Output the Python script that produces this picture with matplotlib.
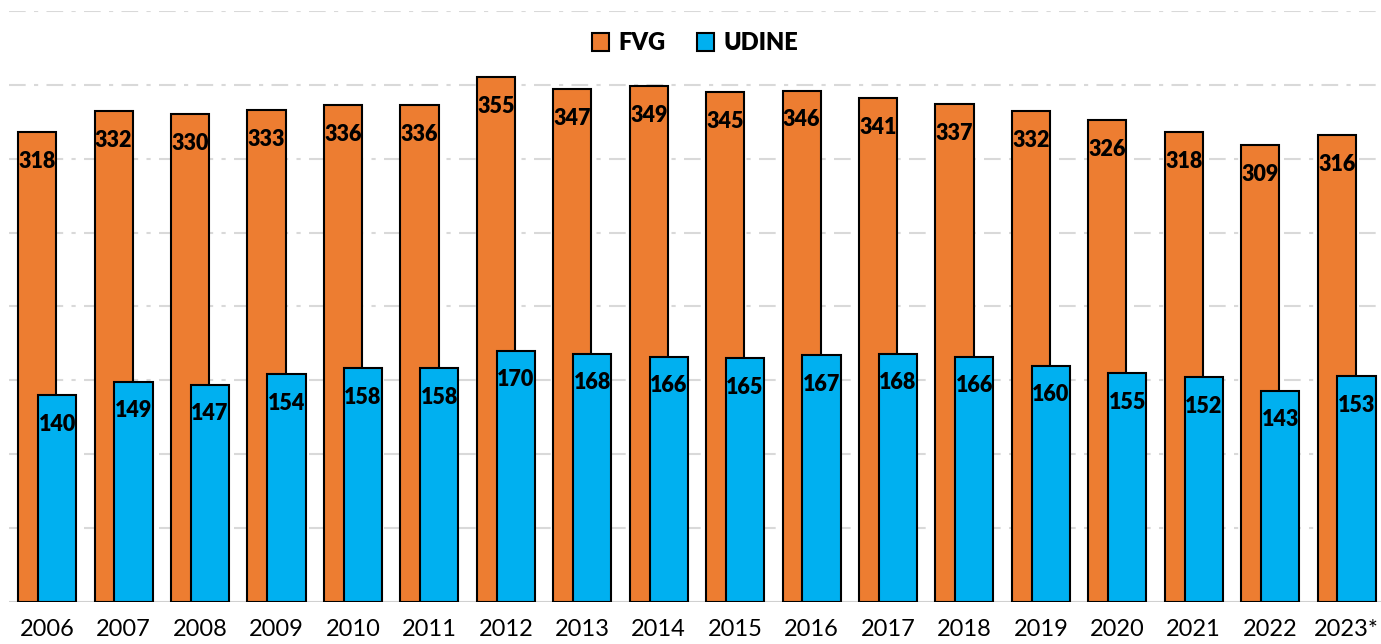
"""Overlapping bar chart: FVG vs UDINE, 2006-2023."""

import matplotlib

matplotlib.use("Agg")
import matplotlib.pyplot as plt
import numpy as np

YEARS = ["2006", "2007", "2008", "2009", "2010", "2011", "2012", "2013", "2014",
         "2015", "2016", "2017", "2018", "2019", "2020", "2021", "2022", "2023*"]
FVG = [318, 332, 330, 333, 336, 336, 355, 347, 349, 345, 346, 341, 337, 332, 326, 318, 309, 316]
UDINE = [140, 149, 147, 154, 158, 158, 170, 168, 166, 165, 167, 168, 166, 160, 155, 152, 143, 153]

ORANGE = "#ED7D31"
BLUE = "#00B0F0"

plt.rcParams["font.family"] = ["Lato", "DejaVu Sans"]


def main() -> None:
    fig = plt.figure(figsize=(13.81, 6.44), dpi=100)
    ax = fig.add_axes([0.0065, 0.0652, 0.9935, 0.918])

    x = np.arange(len(YEARS))
    width = 0.5
    offset = 0.13

    fvg_bars = ax.bar(x - offset, FVG, width, color=ORANGE, edgecolor="black",
                      linewidth=1.5, zorder=2, label="FVG")
    udine_bars = ax.bar(x + offset, UDINE, width, color=BLUE, edgecolor="black",
                        linewidth=1.5, zorder=3, label="UDINE")

    for bars, values in ((fvg_bars, FVG), (udine_bars, UDINE)):
        for bar, value in zip(bars, values):
            ax.annotate(str(value), (bar.get_x() + bar.get_width() / 2, bar.get_height()),
                        xytext=(0, -21), textcoords="offset points",
                        ha="center", va="center", fontsize=15.5, fontweight="heavy",
                        zorder=4)

    ax.set_xlim(-0.5, 17.45)
    ax.set_ylim(0, 400)
    ax.set_yticks(np.arange(50, 401, 50))
    ax.yaxis.grid(True, color="#d9d9d9", linestyle=(0, (8, 4, 2, 4)), linewidth=1.5, zorder=0)
    ax.axhline(0, color="#d0d0d0", linewidth=1.5, zorder=1)
    ax.set_axisbelow(True)
    ax.tick_params(axis="y", left=False, labelleft=False)
    ax.tick_params(axis="x", bottom=False, labelsize=17, pad=9)
    ax.set_xticks(x)
    ax.set_xticklabels(YEARS)
    for spine in ax.spines.values():
        spine.set_visible(False)

    leg = ax.legend(loc="center", bbox_to_anchor=(0.5, 0.945), ncol=2, frameon=False,
                    prop={"size": 17, "weight": "heavy"}, handlelength=0.75,
                    handleheight=0.75, handletextpad=0.4, columnspacing=1.3)
    for handle in leg.legend_handles:
        handle.set_linewidth(1.5)

    fig.savefig("out.png", dpi=100)
    plt.close(fig)


if __name__ == "__main__":
    main()
